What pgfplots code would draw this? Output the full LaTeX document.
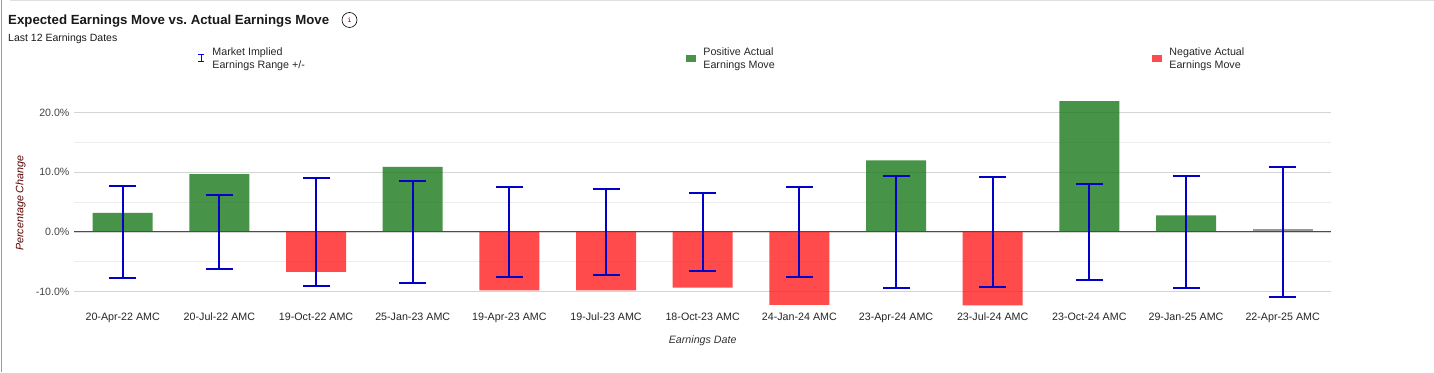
\documentclass[border=0pt]{standalone}
\usepackage{pgfplots}
\usepackage{fontspec}
\setmainfont{Liberation Sans}
\pgfplotsset{compat=1.18}
\definecolor{posg}{RGB}{25,120,25}
\definecolor{negr}{RGB}{255,30,30}
\definecolor{errb}{RGB}{0,0,200}
\definecolor{lblc}{RGB}{68,68,68}
\newcommand{\lgtxt}[4]{\hspace*{#1pt}\parbox[c]{#2pt}{\fontsize{10.7}{13}\selectfont\color{black!85}#3\\#4}}
\frenchspacing
\begin{document}
\begin{tikzpicture}[x=1pt,y=1pt]
\useasboundingbox (0,0) rectangle (1434,372);
\draw[black!40,line width=1pt] (1,0) -- (1,372);
\draw[black!12,line width=1pt] (10,371.5) -- (1434,371.5);
\node[anchor=base west,inner sep=0,font=\bfseries\fontsize{13.25}{16}\selectfont,text=black!90] at (8,347.5) {Expected Earnings Move vs. Actual Earnings Move};
\node[anchor=base west,inner sep=0,font=\fontsize{10.5}{12}\selectfont,text=black!90] at (8,330) {Last 12 Earnings Dates};
\node[circle,draw=black,line width=0.6pt,inner sep=0,minimum size=15pt,font=\ttfamily\fontsize{8}{8}\selectfont,text=red!50!black] at (349.5,352) {i};
\begin{axis}[
  at={(74.4pt,62.4pt)},anchor=south west,
  scale only axis,width=1256.6pt,height=226.9pt,
  xmin=-0.5,xmax=12.5,ymin=-13,ymax=25,
  axis line style={draw=none},
  major tick length=0pt,minor tick length=0pt,
  xtick={0,...,12},
  xticklabels={20-Apr-22 AMC,20-Jul-22 AMC,19-Oct-22 AMC,25-Jan-23 AMC,19-Apr-23 AMC,19-Jul-23 AMC,18-Oct-23 AMC,24-Jan-24 AMC,23-Apr-24 AMC,23-Jul-24 AMC,23-Oct-24 AMC,29-Jan-25 AMC,22-Apr-25 AMC},
  xticklabel style={font=\fontsize{10.7}{12}\selectfont,text=black!85,text height=8pt,text depth=2pt,yshift=1pt},
  ytick={-10,0,10,20},
  yticklabels={-10.0\%,0.0\%,10.0\%,20.0\%},
  minor ytick={-5,5,15},
  yticklabel style={font=\fontsize{10.6}{12}\selectfont,text=lblc,xshift=-1.5pt},
  ymajorgrids,yminorgrids,
  major grid style={black!17,line width=0.9pt},
  minor grid style={black!7,line width=0.9pt},
  xlabel={Earnings Date},
  xlabel style={font=\itshape\fontsize{10.7}{12}\selectfont,text=black!80,at={(axis description cs:0.5,0)},anchor=base,yshift=-34pt},
  ylabel={Percentage Change},
  ylabel style={font=\itshape\fontsize{10.7}{12}\selectfont,text=red!35!black,at={(axis description cs:0,0.5)},anchor=base,xshift=-7pt,yshift=51pt},
  clip=false,
  legend columns=3,
  legend style={at={(121pt,262pt)},anchor=north west,draw=none,fill=none,inner sep=0pt,outer sep=0pt,
    column sep=0pt,nodes={inner sep=0pt}},
  legend cell align=left,
]
\addlegendimage{legend image code/.code={
  \path[draw=none] (0pt,0pt) -- (12pt,0pt);
  \draw[blue,line width=1.5pt] (6pt,-6pt) -- (6pt,0pt);
  \draw[blue,line width=1.3pt] (3pt,-6.5pt) -- (9pt,-6.5pt);
  \draw[blue,line width=1.3pt] (3pt,0.5pt) -- (9pt,0.5pt);}}
\addlegendentry{\lgtxt{5}{473}{Market Implied}{Earnings Range +/-}}
\addlegendimage{legend image code/.code={
  \path[draw=none] (0pt,0pt) -- (12pt,0pt);
  \path[draw=none,fill=posg,fill opacity=0.8] (1pt,-6.5pt) rectangle (11pt,0.5pt);}}
\addlegendentry{\lgtxt{6}{448}{Positive Actual}{Earnings Move}}
\addlegendimage{legend image code/.code={
  \path[draw=none] (0pt,0pt) -- (12pt,0pt);
  \path[draw=none,fill=negr,fill opacity=0.8] (1pt,-6.5pt) rectangle (11pt,0.5pt);}}
\addlegendentry{\lgtxt{6}{90}{Negative Actual}{Earnings Move}}

\addplot[forget plot,ybar,bar width=60pt,bar shift=0pt,fill=posg,fill opacity=0.8,draw=none] coordinates {
 (0,3.2) (1,9.7) (3,10.9) (8,12.0) (10,21.9) (11,2.8)};
\addplot[forget plot,ybar,bar width=60pt,bar shift=0pt,fill=negr,fill opacity=0.8,draw=none] coordinates {
 (2,-6.7) (4,-9.8) (5,-9.8) (6,-9.3) (7,-12.2) (9,-12.3)};
\addplot[forget plot,ybar,bar width=60pt,bar shift=0pt,fill=black!40,draw=none] coordinates {(12,0.5)};
\addplot[forget plot,black!70,line width=1pt] coordinates {(-0.5,0) (12.5,0)};
\addplot[forget plot,draw=none,no markers,
  error bars/.cd,y dir=both,y explicit,
  error bar style={errb,line width=2pt},
  error mark options={errb,line width=2pt,mark size=13.5pt,rotate=90}]
 table[x=x,y=y,y error=e] {
 x y e
 0 0 7.7
 1 0 6.15
 2 0 9.0
 3 0 8.5
 4 0 7.5
 5 0 7.2
 6 0 6.5
 7 0 7.5
 8 0 9.4
 9 0 9.2
 10 0 8.0
 11 0 9.4
 12 0 10.9
 };
\end{axis}
\end{tikzpicture}
\end{document}
